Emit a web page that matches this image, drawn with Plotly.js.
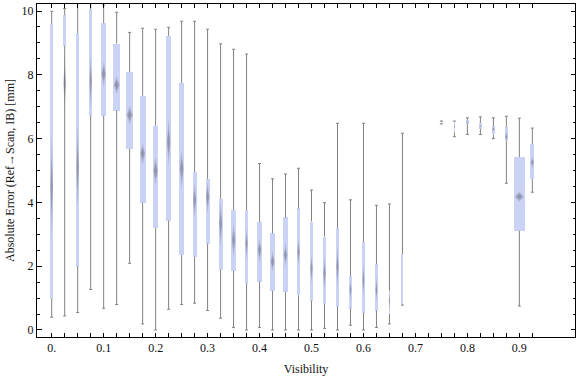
<!DOCTYPE html>
<html>
<head>
<meta charset="utf-8">
<script src="https://cdn.plot.ly/plotly-3.0.1.min.js"></script>
<style>html,body{margin:0;padding:0;background:#fff;}#chart{width:576px;height:377px;}</style>
</head>
<body>
<div id="chart"></div>
<script>
// ---- data ----
const visibility = [0,0.025,0.05,0.075,0.1,0.125,0.15,0.175,0.2,0.225,0.25,0.275,0.3,0.325,0.35,0.375,0.4,0.425,0.45,0.475,0.5,0.525,0.55,0.575,0.6,0.625,0.65,0.675,0.75,0.775,0.8,0.825,0.85,0.875,0.9,0.925];
const whiskerMin = [0.40,0.44,0.55,1.27,0.68,0.80,2.09,0.19,0.00,0.65,0.80,0.84,0.61,0.37,0.08,0.00,0.08,0.00,0.00,0.00,0.00,0.05,0.00,0.15,0.00,0.08,0.19,0.78,6.46,6.06,6.13,6.13,6.00,4.60,0.75,4.32];
const whiskerMax = [9.99,10.08,10.29,10.40,10.19,9.96,9.33,9.46,9.43,9.49,9.68,9.68,9.43,8.97,8.80,8.65,5.22,4.74,4.89,5.07,4.39,3.99,6.48,4.08,6.48,3.91,3.95,6.17,6.55,6.55,6.65,6.68,6.65,6.70,6.64,6.33];
const quartile1 = [0.98,8.91,1.99,6.72,6.72,6.88,5.68,3.99,3.20,3.43,2.35,2.30,2.71,1.89,1.86,1.45,1.52,1.23,1.20,1.09,0.92,0.82,0.73,0.67,0.54,0.61,0.50,0.78,6.48,6.19,6.46,6.31,6.13,5.92,3.11,4.73];
const quartile3 = [9.59,9.87,9.31,10.05,9.62,8.98,8.09,7.34,6.40,9.22,7.74,4.95,4.73,4.11,3.76,3.76,3.38,3.03,3.53,3.81,3.40,2.93,3.20,1.69,2.76,2.06,1.23,2.38,6.52,6.53,6.58,6.49,6.39,6.36,5.42,5.83];
const medians   = [4.49,7.74,5.10,7.80,8.03,7.68,6.74,5.54,4.99,5.90,5.07,4.08,4.18,3.34,2.82,2.72,2.51,2.14,2.35,2.46,1.93,1.78,1.99,1.25,1.57,1.25,0.89,1.60,6.50,6.37,6.52,6.39,6.29,6.06,4.18,5.26];
const notchLow  = [2.90,6.90,3.80,6.90,7.63,7.40,6.46,5.17,4.55,5.17,4.44,3.50,3.66,2.61,2.30,2.19,2.09,1.83,1.99,1.99,1.46,1.25,1.36,0.94,1.04,0.89,0.63,1.60,6.50,6.33,6.49,6.36,6.22,5.90,4.02,5.07];
const notchHigh = [6.10,8.60,6.50,8.62,8.41,7.96,7.02,5.85,5.43,6.64,5.64,4.62,4.65,4.02,3.34,3.19,2.87,2.46,2.72,2.87,2.35,2.30,2.61,1.57,2.09,1.67,1.25,1.60,6.50,6.41,6.55,6.42,6.37,6.22,4.34,5.43];
const xTickVals = [0,0.1,0.2,0.3,0.4,0.5,0.6,0.7,0.8,0.9];
const xTickText = ["0.","0.1","0.2","0.3","0.4","0.5","0.6","0.7","0.8","0.9"];

// ---- styles ----
const boxWidthPx = [3.3,3.3,3.3,3,5.5,7,7.3,6,5.5,4.3,4.7,4,4,4,4.3,3,4.3,4.7,4.3,3,3,3,3,2.3,2.3,2.3,1.7,2,1,1.5,2.7,3,3,3,11,4];
const xRange = [-0.0283, 1.0071];
const yRange = [-0.22, 10.22];
const plotWidthPx = 538;
const pxPerUnit = plotWidthPx / (xRange[1] - xRange[0]);
const capHalfPx = 1.5;
const boxColor = '#cad2f6';
const whiskerColor = '#808080';

const xMinorTicks = [];
for (let i = 0; i <= 37; i++) xMinorTicks.push(+(i * 0.025).toFixed(3));

// whiskers: lower (min -> q1) and upper (q3 -> max), with caps
const wx = [], wy = [];
const capD = capHalfPx / pxPerUnit;
visibility.forEach((v, i) => {
  wx.push(v, v, null, v, v, null, v - capD, v + capD, null, v - capD, v + capD, null);
  wy.push(whiskerMin[i], quartile1[i], null, quartile3[i], whiskerMax[i], null,
          whiskerMin[i], whiskerMin[i], null, whiskerMax[i], whiskerMax[i], null);
});

// notch diamonds around the median (outer soft + inner core to mimic a gradient)
function notchPath(widthFactor, heightFactor) {
  const px = [], py = [];
  visibility.forEach((v, i) => {
    if (notchHigh[i] <= notchLow[i]) return;
    const hw = widthFactor * boxWidthPx[i] / pxPerUnit;
    const lo = medians[i] - heightFactor * (medians[i] - notchLow[i]);
    const hi = medians[i] + heightFactor * (notchHigh[i] - medians[i]);
    px.push(v, v + hw, v, v - hw, v, null);
    py.push(lo, medians[i], hi, medians[i], lo, null);
  });
  return {px, py};
}
const outer = notchPath(0.42, 1.0);
const inner = notchPath(0.3, 0.55);

const traces = [
  {
    type: 'bar', x: visibility,
    base: quartile1,
    y: quartile3.map((q, i) => q - quartile1[i]),
    width: boxWidthPx.map(p => p / pxPerUnit),
    marker: {color: boxColor, line: {width: 0}},
    hoverinfo: 'skip'
  },
  {
    type: 'scatter', mode: 'lines', x: wx, y: wy, connectgaps: false,
    line: {color: whiskerColor, width: 1}, hoverinfo: 'skip', cliponaxis: false
  },
  {
    type: 'scatter', mode: 'lines', x: outer.px, y: outer.py, connectgaps: false,
    fill: 'toself', fillcolor: 'rgba(110,110,125,0.28)',
    line: {width: 0, color: 'rgba(0,0,0,0)'}, hoverinfo: 'skip'
  },
  {
    type: 'scatter', mode: 'lines', x: inner.px, y: inner.py, connectgaps: false,
    fill: 'toself', fillcolor: 'rgba(100,100,112,0.38)',
    line: {width: 0, color: 'rgba(0,0,0,0)'}, hoverinfo: 'skip'
  }
];

const axisFont = {family: 'Liberation Serif, Times New Roman, serif', size: 12, color: '#111'};
const layout = {
  width: 576, height: 377,
  margin: {l: 37, r: 1, t: 4, b: 40, pad: 0},
  paper_bgcolor: '#fff', plot_bgcolor: '#fff',
  showlegend: false, barmode: 'overlay', bargap: 0,
  font: axisFont,
  xaxis: {
    range: xRange, showgrid: false, zeroline: false,
    showline: true, linecolor: '#000', linewidth: 1, mirror: 'ticks',
    ticks: 'inside', ticklen: 4, tickwidth: 1, tickcolor: '#000',
    tickmode: 'array', tickvals: xTickVals, ticktext: xTickText,
    tickfont: axisFont,
    minor: {tickmode: 'array', tickvals: xMinorTicks, ticks: 'inside', ticklen: 4, tickwidth: 1, tickcolor: '#000', showgrid: false},
    title: {text: 'Visibility', font: axisFont, standoff: 10}
  },
  yaxis: {
    range: yRange, showgrid: false, zeroline: false,
    showline: true, linecolor: '#000', linewidth: 1, mirror: 'ticks',
    ticks: 'inside', ticklen: 4.5, tickwidth: 1, tickcolor: '#000',
    tickmode: 'linear', tick0: 0, dtick: 2,
    tickfont: axisFont,
    minor: {tickmode: 'linear', tick0: 0, dtick: 0.5, ticks: 'inside', ticklen: 2.5, tickwidth: 1, tickcolor: '#000', showgrid: false},
    title: {text: 'Absolute Error (Ref\u2192Scan, IB) [mm]', font: axisFont, standoff: 4}
  }
};

Plotly.newPlot('chart', traces, layout, {displayModeBar: false, staticPlot: true});
</script>
</body>
</html>
